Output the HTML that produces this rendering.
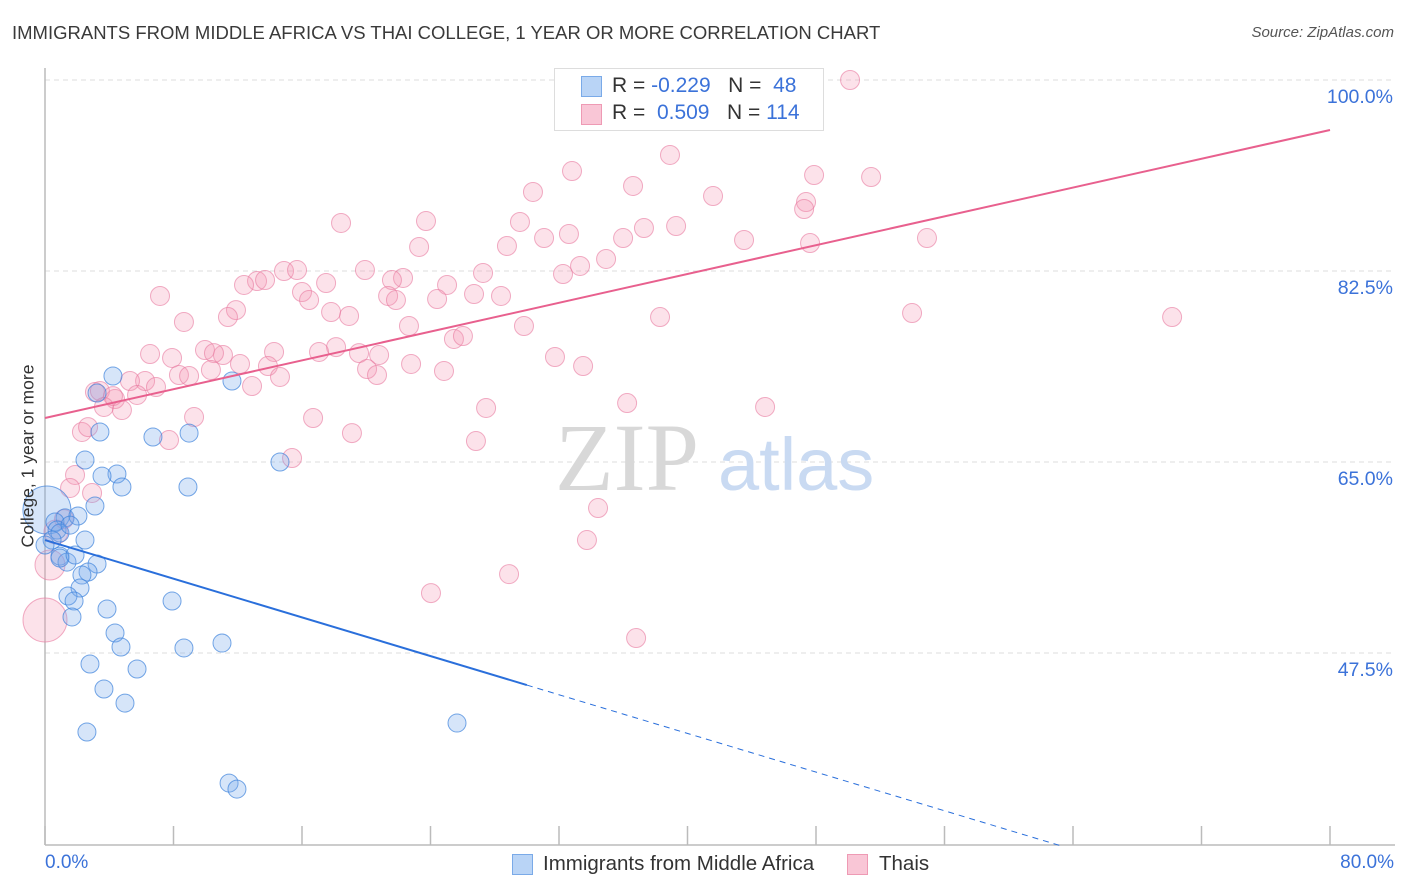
<!DOCTYPE html>
<html><head><meta charset="utf-8">
<style>
body{margin:0;background:#fff;font-family:"Liberation Sans",sans-serif;}
#wrap{position:relative;width:1406px;height:892px;overflow:hidden;}
.t{position:absolute;white-space:nowrap;}
</style></head>
<body>
<div id="wrap">
<svg id="plot" width="1406" height="892" style="position:absolute;left:0;top:0"></svg>
<div class="t" style="left:12px;top:22px;font-size:18.5px;color:#3a3a3a;">IMMIGRANTS FROM MIDDLE AFRICA VS THAI COLLEGE, 1 YEAR OR MORE CORRELATION CHART</div>
<div class="t" style="right:12px;top:24px;font-size:15px;color:#555;font-style:italic;">Source: ZipAtlas.com</div>
<div class="t" style="left:28px;top:456px;font-size:17.5px;color:#333;transform:translate(-50%,-50%) rotate(-90deg);">College, 1 year or more</div>
<div style="position:absolute;left:554px;top:68px;width:268px;height:61px;border:1px solid #ddd;background:#fff;font-size:21px;">
 <div style="position:absolute;left:26px;top:7px;width:19px;height:19px;background:#b9d4f6;border:1px solid #7aaae8;"></div>
 <div class="t" style="left:57px;top:5px;color:#333;">R = <span style="color:#3b72d9">-0.229</span>&nbsp;&nbsp;&nbsp;N = &nbsp;<span style="color:#3b72d9">48</span></div>
 <div style="position:absolute;left:26px;top:35px;width:19px;height:19px;background:#f9c6d6;border:1px solid #ee9ab4;"></div>
 <div class="t" style="left:57px;top:32px;color:#333;">R = &nbsp;<span style="color:#3b72d9">0.509</span>&nbsp;&nbsp;&nbsp;N = <span style="color:#3b72d9">114</span></div>
</div>
<div class="t" style="left:45px;top:852px;font-size:19px;color:#3b72d9;">0.0%</div>
<div class="t" style="right:12px;top:852px;font-size:19px;color:#3b72d9;">80.0%</div>
<div style="position:absolute;left:512px;top:854px;width:19px;height:19px;background:#b9d4f6;border:1px solid #7aaae8;"></div>
<div class="t" style="left:543px;top:852px;font-size:20.5px;color:#333;">Immigrants from Middle Africa</div>
<div style="position:absolute;left:847px;top:854px;width:19px;height:19px;background:#f9c6d6;border:1px solid #ee9ab4;"></div>
<div class="t" style="left:879px;top:852px;font-size:20.5px;color:#333;">Thais</div>
</div>
<script>
const yTicks=[100,82.5,65,47.5];
const yTickLabels=["100.0%","82.5%","65.0%","47.5%"];
const xTicks=[0,8,16,24,32,40,48,56,64,72,80];
const blueX=[4.23,3.24,11.64,6.72,3.42,8.97,2.49,14.63,4.48,3.55,4.79,8.90,3.11,0.12,1.25,2.05,0.62,0.75,0.93,0.44,0.93,1.37,3.24,2.68,2.30,2.18,1.43,1.81,1.68,3.86,7.91,4.36,4.73,8.65,11.02,2.80,5.73,3.67,4.98,2.61,25.65,11.46,11.95,0,0.93,1.87,2.49,1.56];
const blueY=[72.88,71.32,72.42,67.29,67.75,67.65,65.18,65.0,63.9,63.71,62.71,62.71,60.97,60.6,59.88,60.05,59.5,58.77,58.49,57.85,56.38,55.83,55.65,54.92,54.64,53.45,52.72,52.26,50.8,51.53,52.26,49.33,48.05,47.96,48.41,46.49,46.03,44.2,42.91,40.26,41.08,35.58,35.03,57.39,56.2,56.48,57.85,59.22];
const blueBig=[13];
const pinkX=[50.12,38.91,32.81,47.88,51.43,30.38,36.61,41.59,47.38,18.43,23.72,29.57,47.26,37.29,39.29,32.62,31.07,35.99,43.52,54.91,23.29,28.76,47.63,34.93,33.31,19.92,14.88,15.69,27.27,32.25,22.29,21.60,13.20,13.70,12.39,17.50,25.03,16.00,21.36,21.85,16.44,26.71,28.39,24.41,7.16,11.89,18.93,17.81,11.39,8.65,38.29,53.98,70.17,29.82,22.66,25.46,26.02,18.12,6.54,17.06,14.26,19.55,20.80,9.96,11.08,7.91,10.52,31.75,12.14,13.88,22.79,20.05,20.67,33.50,24.84,8.34,8.97,10.33,14.63,6.23,5.29,6.91,12.89,3.11,3.42,4.36,5.73,4.23,3.67,4.79,44.83,36.24,27.46,16.69,9.28,19.11,7.72,2.30,2.68,26.83,15.38,1.87,1.56,2.93,34.43,1.18,33.74,0.68,0.31,28.89,24.03,36.80,0];
const pinkY=[100.0,93.13,91.66,91.29,91.11,89.74,90.29,89.37,88.82,86.90,87.08,86.99,88.18,86.44,86.62,85.89,85.52,85.52,85.34,85.52,84.70,84.79,85.06,83.60,82.96,82.59,82.50,82.59,82.32,82.22,81.86,81.67,81.58,81.67,81.22,81.40,81.22,80.57,80.21,79.84,79.84,80.39,80.21,79.93,80.21,78.92,78.38,78.74,78.28,77.83,78.28,78.65,78.28,77.46,77.46,76.27,76.54,75.53,74.89,75.08,75.08,74.98,74.80,75.26,74.80,74.53,74.98,74.62,73.98,73.79,73.98,73.52,72.97,73.79,73.34,72.97,72.88,73.43,72.79,72.42,72.42,71.87,71.96,71.41,71.50,70.77,71.14,71.04,70.04,69.76,70.04,70.40,69.95,69.03,69.12,67.65,67.01,67.75,68.20,66.92,65.36,63.81,62.62,62.16,60.78,59.77,57.85,58.58,55.56,54.73,52.99,48.87,50.52];
const pinkBig={112:22,108:15,107:12};
const blueTrend=[57.85,-0.443]; // intercept, slope
const blueSolidEnd=30.0, blueDashEnd=63.3;
const pinkTrend=[69.03,0.3299];

const X=v=>45+v*1285/80;
const Y=v=>80+(100-v)*10.914;
const svg=document.getElementById('plot');
const NS='http://www.w3.org/2000/svg';
function mk(tag,attrs){const e=document.createElementNS(NS,tag);for(const k in attrs)e.setAttribute(k,attrs[k]);svg.appendChild(e);return e;}
yTicks.forEach((t,i)=>{
 const g=mk('line',{x1:45,x2:1395,y1:Y(t),y2:Y(t),stroke:'#ddd','stroke-dasharray':'5,4'});
 
 
 const l=mk('text',{x:1393,y:Y(t)+23,'text-anchor':'end','font-size':19.5,fill:'#3b72d9','font-family':'Liberation Sans'});
 l.textContent=yTickLabels[i];
 
 
});
const ax=mk('line',{x1:45,x2:1395,y1:845,y2:845,stroke:'#bbb','stroke-width':1.5});


const ay=mk('line',{x1:45,x2:45,y1:68,y2:845,stroke:'#bbb','stroke-width':1.5});


xTicks.forEach(t=>{const k=mk('line',{x1:X(t),x2:X(t),y1:826,y2:845,stroke:'#bbb','stroke-width':1.5});
 
 });
const wz=mk('text',{x:555,y:490,'font-size':96,fill:'#d8d8d8','font-family':'Liberation Serif'});
wz.textContent='ZIP';


const wa=mk('text',{x:718,y:490,'font-size':74,fill:'#c9daf2','font-family':'Liberation Sans'});
wa.textContent='atlas';


pinkX.forEach((x,i)=>{
 const c=mk('circle',{cx:X(x),cy:Y(pinkY[i]),r:pinkBig[i]||9.5,fill:'rgba(244,150,180,0.28)',stroke:'rgba(232,120,158,0.6)','stroke-width':1});
 
 
});
blueX.forEach((x,i)=>{
 const c=mk('circle',{cx:X(x),cy:Y(blueY[i]),r:blueBig.includes(i)?24:9,fill:'rgba(120,170,235,0.3)',stroke:'rgba(60,130,220,0.7)','stroke-width':1});
 
 
});
const bl=mk('line',{x1:X(0),y1:Y(blueTrend[0]),x2:X(blueSolidEnd),y2:Y(blueTrend[0]+blueTrend[1]*blueSolidEnd),stroke:'#2a6fdb','stroke-width':2});


const bd=mk('line',{x1:X(blueSolidEnd),y1:Y(blueTrend[0]+blueTrend[1]*blueSolidEnd),x2:X(blueDashEnd),y2:Y(blueTrend[0]+blueTrend[1]*blueDashEnd),stroke:'#2a6fdb','stroke-width':1,'stroke-dasharray':'6,5'});


const pl=mk('line',{x1:X(0),y1:Y(pinkTrend[0]),x2:X(80),y2:Y(pinkTrend[0]+pinkTrend[1]*80),stroke:'#e8608e','stroke-width':2});


</script>
</body></html>
